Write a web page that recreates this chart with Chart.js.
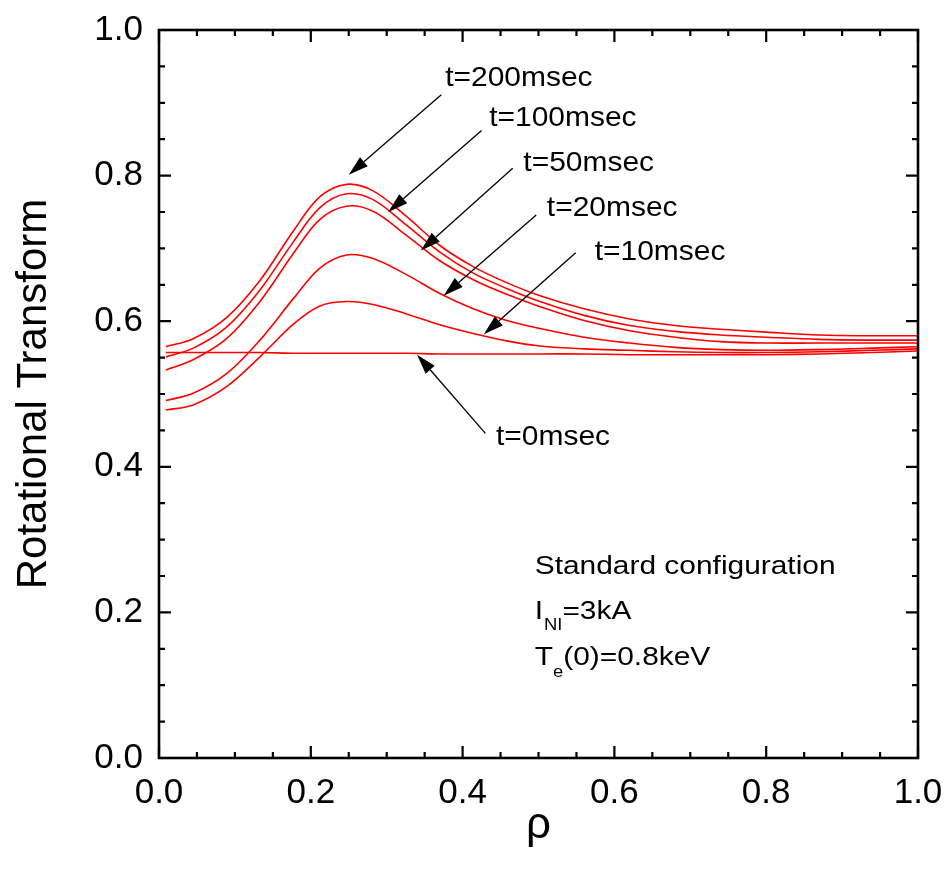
<!DOCTYPE html>
<html>
<head>
<meta charset="utf-8">
<script src="https://cdn.jsdelivr.net/npm/chart.js@4.4.0/dist/chart.umd.min.js"></script>
<style>
  html, body { margin: 0; padding: 0; background: #fff; }
</style>
</head>
<body>
<canvas id="iota" width="944" height="890"></canvas>
<script>
/* iota(rho) profiles at several times after start */

const rho     = [0.009, 0.045, 0.089, 0.133, 0.177, 0.212, 0.247, 0.282, 0.326, 0.370, 0.414, 0.458, 0.502, 0.560, 0.620, 0.680, 0.740, 0.800, 0.870, 0.940, 1.000];
const iota0   = [0.557, 0.557, 0.557, 0.557, 0.556, 0.556, 0.556, 0.556, 0.556, 0.555, 0.555, 0.555, 0.555, 0.555, 0.554, 0.554, 0.554, 0.554, 0.555, 0.557, 0.559];
const iota10  = [0.478, 0.485, 0.510, 0.551, 0.596, 0.621, 0.627, 0.623, 0.610, 0.595, 0.583, 0.573, 0.566, 0.562, 0.560, 0.558, 0.557, 0.557, 0.558, 0.560, 0.562];
const iota20  = [0.491, 0.501, 0.528, 0.574, 0.631, 0.673, 0.691, 0.686, 0.664, 0.638, 0.617, 0.601, 0.590, 0.578, 0.570, 0.564, 0.561, 0.560, 0.561, 0.563, 0.565];
const iota50  = [0.533, 0.547, 0.576, 0.627, 0.693, 0.740, 0.758, 0.751, 0.718, 0.683, 0.657, 0.637, 0.620, 0.601, 0.587, 0.578, 0.572, 0.570, 0.570, 0.570, 0.570];
const iota100 = [0.551, 0.563, 0.592, 0.643, 0.709, 0.756, 0.775, 0.767, 0.732, 0.695, 0.666, 0.645, 0.627, 0.608, 0.594, 0.586, 0.581, 0.578, 0.575, 0.574, 0.574];
const iota200 = [0.565, 0.576, 0.605, 0.656, 0.724, 0.771, 0.788, 0.779, 0.744, 0.704, 0.675, 0.653, 0.635, 0.617, 0.603, 0.594, 0.589, 0.585, 0.581, 0.580, 0.580];

const timeLabels = ['t=0msec', 't=10msec', 't=20msec', 't=50msec', 't=100msec', 't=200msec'];
const tickLabels = ['0.0', '0.2', '0.4', '0.6', '0.8', '1.0'];

// callout arrows: tip / tail / label anchor in data units (rho, iota)
const callouts = [
  { label: 't=0msec',   tip: [0.340, 0.554], tail: [0.430, 0.446], at: [0.444, 0.441] },
  { label: 't=10msec',  tip: [0.428, 0.582], tail: [0.549, 0.694], at: [0.574, 0.694] },
  { label: 't=20msec',  tip: [0.375, 0.635], tail: [0.497, 0.746], at: [0.511, 0.755] },
  { label: 't=50msec',  tip: [0.345, 0.697], tail: [0.466, 0.810], at: [0.480, 0.817] },
  { label: 't=100msec', tip: [0.302, 0.750], tail: [0.425, 0.862], at: [0.435, 0.879] },
  { label: 't=200msec', tip: [0.250, 0.801], tail: [0.372, 0.911], at: [0.377, 0.934] },
];

const FONT = "'Liberation Sans', Arial, sans-serif";

function stretchedText(ctx, str, x, y, size, sx) {
  ctx.save();
  ctx.font = size + 'px ' + FONT;
  ctx.translate(x, y);
  ctx.scale(sx, 1);
  ctx.fillText(str, 0, 0);
  const w = ctx.measureText(str).width * sx;
  ctx.restore();
  return w;
}

// boxed frame with inward major/minor ticks on all four sides
const frame = {
  id: 'frame',
  afterDraw(chart) {
    const { ctx, chartArea: a, scales: { x, y } } = chart;
    ctx.save();
    ctx.strokeStyle = '#000';
    ctx.lineWidth = 2.6;
    ctx.strokeRect(a.left, a.top, a.right - a.left, a.bottom - a.top);
    ctx.lineWidth = 2.2;
    const marks = (scale, cb) => {
      const t = scale.ticks;
      t.forEach((tk, i) => {
        cb(scale.getPixelForValue(tk.value), 12);
        if (i < t.length - 1) {
          const step = (t[i + 1].value - tk.value) / 4;
          for (let k = 1; k < 4; k++) cb(scale.getPixelForValue(tk.value + k * step), 6);
        }
      });
    };
    ctx.beginPath();
    marks(x, (px, len) => {
      ctx.moveTo(px, a.bottom); ctx.lineTo(px, a.bottom - len);
      ctx.moveTo(px, a.top);    ctx.lineTo(px, a.top + len);
    });
    marks(y, (py, len) => {
      ctx.moveTo(a.left, py);  ctx.lineTo(a.left + len, py);
      ctx.moveTo(a.right, py); ctx.lineTo(a.right - len, py);
    });
    ctx.stroke();
    ctx.restore();
  }
};

// arrows with time labels, plus the configuration note
const notes = {
  id: 'notes',
  afterDraw(chart) {
    const { ctx, scales: { x, y } } = chart;
    const P = (p) => [x.getPixelForValue(p[0]), y.getPixelForValue(p[1])];
    ctx.save();
    ctx.fillStyle = '#000';
    ctx.strokeStyle = '#000';
    ctx.lineWidth = 1.3;
    ctx.textBaseline = 'middle';
    callouts.forEach(c => {
      const [tx, ty] = P(c.tip);
      const [sx, sy] = P(c.tail);
      const ang = Math.atan2(ty - sy, tx - sx);
      const L = 20, W = 6;
      const bx = tx - L * Math.cos(ang), by = ty - L * Math.sin(ang);
      ctx.beginPath();
      ctx.moveTo(sx, sy); ctx.lineTo(bx, by);
      ctx.stroke();
      ctx.beginPath();
      ctx.moveTo(tx, ty);
      ctx.lineTo(bx + W * Math.sin(ang), by - W * Math.cos(ang));
      ctx.lineTo(bx - W * Math.sin(ang), by + W * Math.cos(ang));
      ctx.closePath();
      ctx.fill();
      const [lx, ly] = P(c.at);
      stretchedText(ctx, c.label, lx, ly, 28, 1.07);
    });

    const left = x.getPixelForValue(0.495);
    const sx = 1.15;
    stretchedText(ctx, 'Standard configuration', left, y.getPixelForValue(0.262), 26, sx);

    let yy = y.getPixelForValue(0.2005);
    let cx = left;
    cx += stretchedText(ctx, 'I', cx, yy, 26, sx) + 1;
    cx += stretchedText(ctx, 'NI', cx, yy + 14, 16, sx);
    stretchedText(ctx, '=3kA', cx, yy, 26, sx);

    yy = y.getPixelForValue(0.137);
    cx = left;
    cx += stretchedText(ctx, 'T', cx, yy, 26, sx);
    cx += stretchedText(ctx, 'e', cx, yy + 14, 16, sx);
    stretchedText(ctx, '(0)=0.8keV', cx, yy, 26, sx);
    ctx.restore();
  }
};

const profiles = [iota0, iota10, iota20, iota50, iota100, iota200];

new Chart(document.getElementById('iota'), {
  type: 'line',
  data: {
    datasets: profiles.map((vals, i) => ({
      label: timeLabels[i],
      data: rho.map((r, k) => ({ x: r, y: vals[k] })),
      borderColor: '#ff0000',
      borderWidth: 1.6,
      pointRadius: 0,
      fill: false,
      tension: 0.35,
    })),
  },
  options: {
    responsive: false,
    animation: false,
    devicePixelRatio: 1,
    layout: { padding: { top: 30, right: 26, left: 0, bottom: 0 } },
    plugins: { legend: { display: false }, tooltip: { enabled: false } },
    scales: {
      x: {
        type: 'linear', min: 0, max: 1,
        grid: { display: false, drawTicks: false },
        border: { display: false },
        ticks: {
          stepSize: 0.2, padding: 14, color: '#000',
          font: { family: FONT, size: 35 },
          callback: (v, i) => tickLabels[i],
        },
        title: { display: true, text: 'ρ', color: '#000', font: { family: FONT, size: 44 }, padding: { top: 0, bottom: 38 } },
        afterFit(s) { s.height = 132; s.paddingLeft = 0; s.paddingRight = 0; },
      },
      y: {
        type: 'linear', min: 0, max: 1,
        grid: { display: false, drawTicks: false },
        border: { display: false },
        ticks: {
          stepSize: 0.2, padding: 16, color: '#000',
          font: { family: FONT, size: 35 },
          callback: (v, i) => tickLabels[i],
        },
        title: { display: true, text: 'Rotational Transform', color: '#000', font: { family: FONT, size: 42 }, padding: { top: 9, bottom: 0 } },
        afterFit(s) { s.width = 159; s.paddingTop = 0; s.paddingBottom = 0; },
      },
    },
  },
  plugins: [frame, notes],
});
</script>
</body>
</html>
